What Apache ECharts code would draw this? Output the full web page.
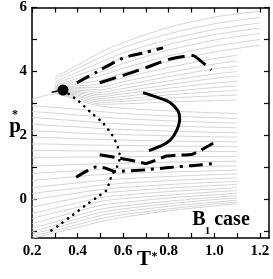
<!DOCTYPE html>
<html><head><meta charset="utf-8">
<script src="https://cdn.jsdelivr.net/npm/echarts@6/dist/echarts.min.js"></script>
<style>html,body{margin:0;padding:0;background:#fff}#c{width:273px;height:279px}</style>
</head><body><div id="c"></div>
<script>
// ---- data ----
const tGrid = [0.2, 0.3, 0.4, 0.5, 0.6, 0.8, 1.0, 1.1, 1.2];
// upper fan of gray lines (from the critical point)
const fanLines = [
  [null, 3.82, 4.20, 4.60, 4.90, 5.38, 5.70, 5.80, 5.88],
  [null, 3.75, 4.10, 4.44, 4.75, 5.18, 5.49, 5.60, 5.69],
  [null, 3.68, 3.98, 4.29, 4.58, 5.00, 5.31, 5.42, 5.52],
  [null, 3.62, 3.88, 4.13, 4.42, 4.85, 5.15, 5.26, 5.36],
  [null, 3.57, 3.78, 3.98, 4.25, 4.67, 4.98, 5.09, 5.19],
  [null, 3.53, 3.70, 3.87, 4.10, 4.49, 4.79, 4.90, 5.00],
  [null, 3.50, 3.62, 3.73, 3.95, 4.32, 4.61, 4.72, 4.82],
  [null, 3.47, 3.55, 3.61, 3.80, 4.13, 4.40, 4.51, null],
  [null, 3.45, 3.50, 3.51, 3.68, 3.97, 4.23, 4.33, null],
  [null, 3.43, 3.46, 3.43, 3.57, 3.84, 4.08, 4.17, null],
  [null, 3.41, 3.42, 3.35, 3.47, 3.71, 3.92, 4.00, null],
  [null, 3.40, 3.38, 3.28, 3.38, 3.59, 3.79, 3.86, null],
  [null, 3.38, 3.34, 3.22, 3.30, 3.48, 3.64, 3.70, null],
  [null, 3.37, 3.30, 3.16, 3.22, 3.37, 3.50, 3.55, null],
  [null, 3.36, 3.26, 3.10, 3.14, 3.27, 3.37, 3.41, null],
  [null, 3.35, 3.22, 3.04, 3.07, 3.17, 3.24, 3.27, null],
  [null, 3.34, 3.17, 2.98, 2.99, 3.05, 3.09, 3.11, null]
];
// lower gray lines (from the left edge)
const lowLines = [
  [-1.21, -1.04, -0.87, -0.69, -0.55, -0.35, -0.20, -0.13, null],
  [-1.15, -0.97, -0.78, -0.60, -0.47, -0.29, -0.14, -0.08, null],
  [-1.08, -0.89, -0.69, -0.50, -0.38, -0.21, -0.08, -0.02, null],
  [-1.00, -0.80, -0.60, -0.40, -0.29, -0.13, 0.00, 0.05, null],
  [-0.90, -0.70, -0.50, -0.30, -0.20, -0.05, 0.07, 0.12, null],
  [-0.75, -0.56, -0.37, -0.18, -0.09, 0.05, 0.15, 0.20, null],
  [-0.59, -0.41, -0.24, -0.06, 0.03, 0.14, 0.24, 0.28, null],
  [-0.43, -0.27, -0.10, 0.06, 0.14, 0.25, 0.33, 0.37, null],
  [-0.23, -0.09, 0.05, 0.19, 0.26, 0.36, 0.44, 0.47, null],
  [0.00, 0.10, 0.21, 0.31, 0.38, 0.47, 0.54, 0.57, null],
  [0.19, 0.28, 0.36, 0.45, 0.51, 0.59, 0.65, 0.68, null],
  [0.37, 0.45, 0.52, 0.60, 0.65, 0.72, 0.78, 0.80, null],
  [0.60, 0.66, 0.72, 0.78, 0.82, 0.86, 0.90, 0.92, null],
  [0.81, 0.86, 0.90, 0.95, 0.98, 1.01, 1.04, 1.05, null],
  [1.05, 1.07, 1.10, 1.12, 1.14, 1.17, 1.19, 1.20, null],
  [1.32, 1.32, 1.33, 1.33, 1.34, 1.34, 1.35, 1.35, null],
  [1.53, 1.53, 1.52, 1.52, 1.51, 1.51, 1.50, 1.50, null],
  [1.74, 1.73, 1.71, 1.70, 1.69, 1.67, 1.66, 1.65, null],
  [1.95, 1.93, 1.90, 1.88, 1.86, 1.83, 1.81, 1.80, null],
  [2.15, 2.12, 2.08, 2.05, 2.03, 1.99, 1.96, 1.95, null],
  [2.36, 2.31, 2.27, 2.22, 2.19, 2.14, 2.10, 2.09, null],
  [2.57, 2.51, 2.46, 2.40, 2.36, 2.30, 2.26, 2.24, null],
  [2.75, 2.70, 2.64, 2.58, 2.53, 2.46, 2.41, 2.39, null],
  [2.93, 2.88, 2.82, 2.75, 2.69, 2.61, 2.56, 2.53, null],
  [3.13, 3.30, 3.10, 2.92, 2.85, 2.77, 2.71, 2.69, null]
];
const critT = [0.336], critP = [3.42];
const stubT = [0.286, 0.336], stubP = [3.35, 3.42];
const dottedT = [0.336, 0.40, 0.454, 0.51, 0.553, 0.577, 0.585, 0.575, 0.55, 0.54, 0.526, 0.497, 0.435, 0.377, 0.318, 0.284];
const dottedP = [3.42, 3.10, 2.75, 2.40, 2.00, 1.63, 1.35, 1.05, 0.75, 0.55, 0.29, 0.13, -0.18, -0.49, -0.80, -0.97];
const upDashDotT = [0.397, 0.48, 0.60, 0.70, 0.775];
const upDashDotP = [3.65, 3.97, 4.42, 4.60, 4.74];
const upDashT = [0.497, 0.60, 0.70, 0.80, 0.90, 0.914, 0.987];
const upDashP = [3.65, 3.88, 4.12, 4.38, 4.50, 4.48, 4.05];
const solidT = [0.687, 0.76, 0.804, 0.841, 0.848, 0.834, 0.804, 0.76, 0.713];
const solidP = [3.34, 3.17, 3.04, 2.77, 2.52, 2.15, 1.84, 1.66, 1.53];
const lowDashT = [0.497, 0.563, 0.64, 0.70, 0.79, 0.82, 0.90, 0.93, 0.995];
const lowDashP = [1.40, 1.32, 1.22, 1.13, 1.36, 1.38, 1.41, 1.50, 1.76];
const lowDashDotT = [0.394, 0.445, 0.48, 0.519, 0.567, 0.70, 0.80, 0.90, 0.995];
const lowDashDotP = [0.70, 0.91, 1.02, 0.99, 0.88, 0.93, 1.00, 1.06, 1.12];
const xTicks = [0.2, 0.3, 0.4, 0.5, 0.6, 0.7, 0.8, 0.9, 1.0, 1.1, 1.2];
const xLabels = [0.2, 0.4, 0.6, 0.8, 1.0, 1.2];
const yTicks = [-1, 0, 1, 2, 3, 4, 5, 6];
const yLabels = [0, 2, 4, 6];

// ---- build ----
const F = '"Liberation Serif","Times New Roman",serif';
const pairs = (xs, ys) => xs.map((x, i) => [x, ys[i]]).filter(d => d[1] !== null);
const series = [];
fanLines.concat(lowLines).forEach(ys => series.push({
  type: 'line', data: pairs(tGrid, ys), showSymbol: false, smooth: 0.3, silent: true,
  lineStyle: { color: '#d4d4d4', width: 1 }, z: 1
}));
const blk = (xs, ys, w, type, smooth, cap) => ({
  type: 'line', data: pairs(xs, ys), showSymbol: false, smooth: smooth || 0, silent: true,
  lineStyle: { color: '#000', width: w, type: type, cap: cap || 'butt', opacity: 1 }, z: 5
});
series.push(blk(dottedT, dottedP, 2.6, [0.1, 6.6], 0.3, 'round'));
series.push(blk(upDashDotT, upDashDotP, 3, [14, 6, 3, 6], 0.3));
series.push(blk(upDashT, upDashP, 3, [17, 7], 0.2));
series.push(blk(solidT, solidP, 3, 'solid', 0.4));
series.push(blk(lowDashT, lowDashP, 3, [15, 6], 0.1));
series.push(blk(lowDashDotT, lowDashDotP, 3, [14, 6, 3, 6], 0.2));
series.push(blk(stubT, stubP, 1.5, 'solid', 0));
series.push({ type: 'scatter', data: pairs(critT, critP), symbolSize: 11, itemStyle: { color: '#000', opacity: 1 }, z: 6, silent: true });

const axLine = { show: true, onZero: false, lineStyle: { color: '#000', width: 1.5 } };
const lbl = { fontFamily: F, fontWeight: 'bold', fontSize: 15, color: '#000' };
const chart = echarts.init(document.getElementById('c'), null, { renderer: 'canvas' });
chart.setOption({
  animation: false,
  grid: { left: 32, right: 4, top: 6, bottom: 41 },
  xAxis: [
    { type: 'value', min: 0.2, max: 1.24, position: 'bottom', axisLine: axLine,
      axisTick: { inside: true, length: 5, customValues: xTicks, lineStyle: { color: '#000', width: 1.2 } },
      axisLabel: Object.assign({ customValues: xLabels, margin: 6, formatter: v => v.toFixed(1) }, lbl),
      splitLine: { show: false } },
    { type: 'value', min: 0.2, max: 1.24, position: 'top', axisLine: axLine,
      axisTick: { inside: true, length: 5, customValues: xTicks, lineStyle: { color: '#000', width: 1.2 } },
      axisLabel: { show: false }, splitLine: { show: false } }
  ],
  yAxis: [
    { type: 'value', min: -1.2, max: 6, position: 'left', axisLine: axLine,
      axisTick: { inside: true, length: 5, customValues: yTicks, lineStyle: { color: '#000', width: 1.2 } },
      axisLabel: Object.assign({ customValues: yLabels, margin: 5 }, lbl),
      splitLine: { show: false } },
    { type: 'value', min: -1.2, max: 6, position: 'right', axisLine: axLine,
      axisTick: { inside: true, length: 5, customValues: yTicks, lineStyle: { color: '#000', width: 1.2 } },
      axisLabel: { show: false }, splitLine: { show: false } }
  ],
  series: series,
  graphic: [
    { type: 'text', x: 144, y: 260, style: { text: 'T', font: 'bold 21px ' + F, fill: '#000', align: 'center', verticalAlign: 'middle' } },
    { type: 'text', x: 154.5, y: 257, style: { text: '*', font: 'bold 12px ' + F, fill: '#000', align: 'center', verticalAlign: 'middle' } },
    { type: 'text', x: 15, y: 127, style: { text: 'p', font: 'bold 21px ' + F, fill: '#000', align: 'center', verticalAlign: 'middle' } },
    { type: 'text', x: 15, y: 115, style: { text: '*', font: 'bold 12px ' + F, fill: '#000', align: 'center', verticalAlign: 'middle' } },
    { type: 'text', x: 199, y: 220, style: { text: 'B', font: 'bold 20px ' + F, fill: '#000', align: 'center', verticalAlign: 'middle' } },
    { type: 'text', x: 207.5, y: 231, style: { text: '1', font: 'bold 11px ' + F, fill: '#000', align: 'center', verticalAlign: 'middle' } },
    { type: 'text', x: 232, y: 220, style: { text: 'case', font: 'bold 20px ' + F, fill: '#000', align: 'center', verticalAlign: 'middle' } }
  ]
});
</script></body></html>
